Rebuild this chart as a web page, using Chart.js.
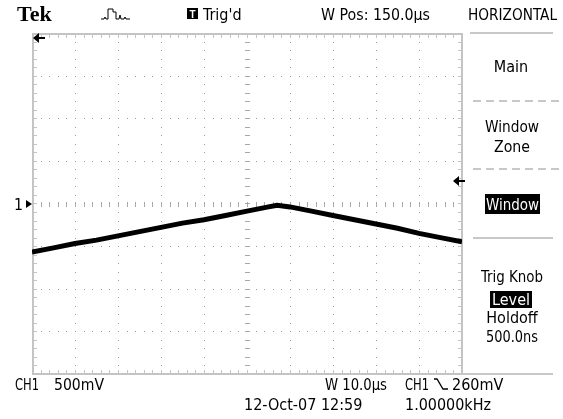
<!DOCTYPE html>
<html>
<head>
<meta charset="utf-8">
<script src="https://cdn.jsdelivr.net/npm/chart.js@4.4.1/dist/chart.umd.min.js"></script>
<style>
  html, body { margin: 0; padding: 0; background: #fff; }
  #scope { display: block; }
</style>
</head>
<body>
<canvas id="scope" width="563" height="419"></canvas>
<script>
// time in µs (10 µs/div), CH1 in volts (500 mV/div, ground at centre)
const times = [0, 5, 10, 15, 20, 25, 30, 35, 40, 45, 50, 55, 57, 60, 65, 70, 75, 80, 85, 90, 95, 100];
const ch1 = [-0.57, -0.52, -0.47, -0.43, -0.38, -0.33, -0.28, -0.23, -0.19, -0.14, -0.09, -0.04, -0.02,
             -0.04, -0.09, -0.14, -0.19, -0.24, -0.29, -0.35, -0.40, -0.45];

const xTicks = [0, 10, 20, 30, 40, 50, 60, 70, 80, 90, 100];
const yTicks = [-2, -1.5, -1, -0.5, 0, 0.5, 1, 1.5, 2];
const trigLevel = 0.26;

const FONT = '"Liberation Sans Narrow", "DejaVu Sans Condensed", "Liberation Sans", sans-serif';

const points = times.map((t, i) => ({ x: t, y: ch1[i] }));

const graticule = {
  id: 'graticule',
  beforeDatasetsDraw(chart) {
    const ctx = chart.ctx;
    const xs = chart.scales.x, ys = chart.scales.y;
    const a = chart.chartArea;
    const minorX = 2, minorY = 0.1;
    ctx.save();

    // dotted major lines
    ctx.fillStyle = '#9a9a9a';
    xTicks.slice(1, -1).forEach(t => {
      if (t === 50) return;
      const px = Math.round(xs.getPixelForValue(t));
      for (let v = -2 + minorY; v < 2; v += minorY) {
        ctx.fillRect(px, Math.round(ys.getPixelForValue(v)), 1, 1);
      }
    });
    yTicks.slice(1, -1).forEach(v => {
      if (v === 0) return;
      const py = Math.round(ys.getPixelForValue(v));
      for (let t = minorX; t < 100; t += minorX) {
        ctx.fillRect(Math.round(xs.getPixelForValue(t)), py, 1, 1);
      }
    });

    // centre axes with minor ticks
    ctx.fillStyle = '#a8a8a8';
    const cy = Math.round(ys.getPixelForValue(0));
    for (let t = minorX; t < 100; t += minorX) {
      ctx.fillRect(Math.round(xs.getPixelForValue(t)), cy - 2, 1, 5);
    }
    const cx = Math.round(xs.getPixelForValue(50));
    for (let v = -2 + minorY; v < 2; v += minorY) {
      ctx.fillRect(cx - 2, Math.round(ys.getPixelForValue(v)), 5, 1);
    }

    // border with inward ticks
    ctx.fillStyle = '#c4c4c4';
    ctx.fillRect(a.left, a.top, a.right - a.left, 2);
    ctx.fillRect(a.left, a.bottom - 1, a.right - a.left, 2);
    ctx.fillRect(a.left, a.top, 2, a.bottom - a.top);
    ctx.fillRect(a.right - 1, a.top, 2, a.bottom - a.top);
    for (let t = minorX; t < 100; t += minorX) {
      const px = Math.round(xs.getPixelForValue(t));
      ctx.fillRect(px, a.top, 1, 5);
      ctx.fillRect(px, a.bottom - 4, 1, 5);
    }
    for (let v = -2 + minorY; v < 2; v += minorY) {
      const py = Math.round(ys.getPixelForValue(v));
      ctx.fillRect(a.left, py, 5, 1);
      ctx.fillRect(a.right - 4, py, 5, 1);
    }
    ctx.restore();
  }
};

function arrowLeft(ctx, x, y) {
  ctx.beginPath();
  ctx.moveTo(x, y);
  ctx.lineTo(x + 6, y - 5);
  ctx.lineTo(x + 6, y + 5);
  ctx.closePath();
  ctx.fill();
  ctx.fillRect(x + 5, y - 1, 7, 2);
}

const readout = {
  id: 'readout',
  afterDraw(chart) {
    const ctx = chart.ctx;
    const ys = chart.scales.y;
    const a = chart.chartArea;
    ctx.save();
    ctx.fillStyle = '#000';
    ctx.strokeStyle = '#000';
    ctx.textBaseline = 'alphabetic';

    const txt = (s, x, y, w, align) => {
      ctx.textAlign = align || 'left';
      ctx.fillText(s, x, y, w);
    };
    const inv = (s, x0, y0, x1, y1, by) => {
      ctx.fillStyle = '#000';
      ctx.fillRect(x0, y0, x1 - x0, y1 - y0);
      ctx.fillStyle = '#fff';
      txt(s, (x0 + x1) / 2, by, x1 - x0 - 2, 'center');
      ctx.fillStyle = '#000';
    };

    // header
    ctx.font = 'bold 22px "Liberation Serif", "DejaVu Serif", serif';
    txt('Tek', 17, 21, 45);

    ctx.lineWidth = 1;
    ctx.beginPath();
    ctx.moveTo(101, 19); ctx.lineTo(104, 19); ctx.lineTo(105, 17); ctx.lineTo(106, 19);
    ctx.lineTo(108, 19); ctx.lineTo(108, 9); ctx.lineTo(113, 9); ctx.lineTo(113, 12);
    ctx.lineTo(116, 12); ctx.lineTo(116, 19); ctx.lineTo(119, 19); ctx.lineTo(120, 15);
    ctx.lineTo(121, 19); ctx.lineTo(124, 19); ctx.lineTo(125, 17); ctx.lineTo(126, 19);
    ctx.lineTo(130, 19);
    ctx.stroke();

    ctx.fillRect(187, 8, 11, 11);
    ctx.fillStyle = '#fff';
    ctx.font = 'bold 10px "Liberation Sans", sans-serif';
    txt('T', 192.5, 17.5, 9, 'center');
    ctx.fillStyle = '#000';

    ctx.font = '16px ' + FONT;
    txt("Trig'd", 203, 20, 44);
    txt('W Pos: 150.0\u00b5s', 321, 20, 109);
    txt('HORIZONTAL', 468, 20, 89);

    // menu panel
    ctx.fillStyle = '#c8c8c8';
    ctx.fillRect(470, 32, 83, 2);
    ctx.fillRect(473, 237, 80, 2);
    ctx.fillRect(462, 373, 91, 2);
    for (let x = 473; x < 553; x += 13) {
      ctx.fillRect(x, 100, 8, 2);
      ctx.fillRect(x, 168, 8, 2);
    }
    ctx.fillStyle = '#000';
    txt('Main', 511, 72, 40, 'center');
    txt('Window', 512, 132, 54, 'center');
    txt('Zone', 512, 152, 36, 'center');
    inv('Window', 485, 194, 540, 214, 210);
    txt('Trig Knob', 512, 282, 62, 'center');
    inv('Level', 490, 291, 532, 308, 305);
    txt('Holdoff', 512, 323, 52, 'center');
    txt('500.0ns', 512, 342, 52, 'center');

    // markers
    arrowLeft(ctx, a.left + 1, a.top + 5);
    arrowLeft(ctx, a.right - 9, Math.round(ys.getPixelForValue(trigLevel)));
    const gy = Math.round(ys.getPixelForValue(0));
    txt('1', 14, gy + 6, 9);
    ctx.beginPath();
    ctx.moveTo(a.left, gy);
    ctx.lineTo(a.left - 6, gy - 4);
    ctx.lineTo(a.left - 6, gy + 4);
    ctx.closePath();
    ctx.fill();

    // footer
    txt('CH1', 15, 390, 24);
    txt('500mV', 54, 390, 50);
    txt('W 10.0\u00b5s', 325, 390, 62);
    txt('CH1', 405, 390, 24);
    ctx.lineWidth = 1.3;
    ctx.beginPath();
    ctx.moveTo(434, 379); ctx.lineTo(437, 379); ctx.lineTo(443, 389); ctx.lineTo(448, 389);
    ctx.stroke();
    txt('260mV', 452, 390, 60);
    txt('12-Oct-07 12:59', 244, 410, 126);
    txt('1.00000kHz', 405, 410, 86);
    ctx.restore();
  }
};

new Chart(document.getElementById('scope'), {
  type: 'line',
  data: {
    datasets: [{
      data: points,
      borderColor: '#000',
      borderWidth: 5,
      pointRadius: 0,
      tension: 0,
      fill: false
    }]
  },
  options: {
    responsive: false,
    animation: false,
    events: [],
    layout: { padding: { left: 32, top: 33, right: 101, bottom: 45 } },
    plugins: { legend: { display: false }, tooltip: { enabled: false } },
    scales: {
      x: { type: 'linear', min: 0, max: 100, display: false },
      y: { min: -2, max: 2, display: false }
    }
  },
  plugins: [graticule, readout]
});
</script>
</body>
</html>
